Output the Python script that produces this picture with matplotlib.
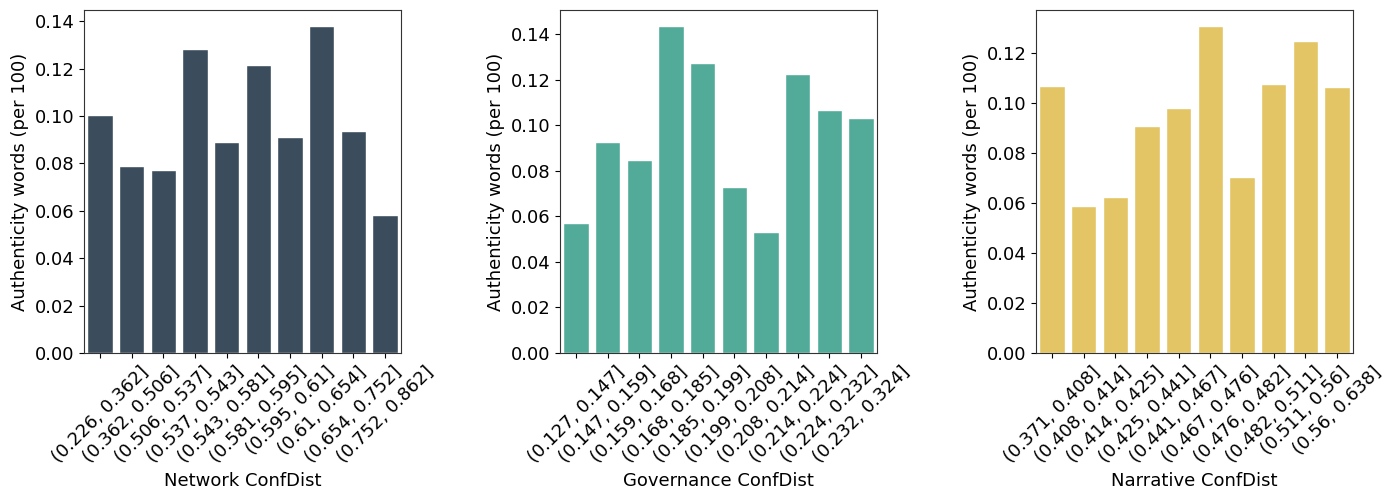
import matplotlib
matplotlib.use("Agg")
import matplotlib.pyplot as plt
import numpy as np

network_labels = ["(0.226, 0.362]", "(0.362, 0.506]", "(0.506, 0.537]", "(0.537, 0.543]",
                  "(0.543, 0.581]", "(0.581, 0.595]", "(0.595, 0.61]", "(0.61, 0.654]",
                  "(0.654, 0.752]", "(0.752, 0.862]"]
network_values = [0.1002, 0.0790, 0.0770, 0.1282, 0.0890, 0.1216, 0.0911, 0.1378, 0.0937, 0.0581]

governance_labels = ["(0.127, 0.147]", "(0.147, 0.159]", "(0.159, 0.168]", "(0.168, 0.185]",
                     "(0.185, 0.199]", "(0.199, 0.208]", "(0.208, 0.214]", "(0.214, 0.224]",
                     "(0.224, 0.232]", "(0.232, 0.324]"]
governance_values = [0.0570, 0.0928, 0.0849, 0.1435, 0.1275, 0.0731, 0.0530, 0.1227, 0.1067, 0.1032]

narrative_labels = ["(0.371, 0.408]", "(0.408, 0.414]", "(0.414, 0.425]", "(0.425, 0.441]",
                    "(0.441, 0.467]", "(0.467, 0.476]", "(0.476, 0.482]", "(0.482, 0.511]",
                    "(0.511, 0.56]", "(0.56, 0.638]"]
narrative_values = [0.1066, 0.0586, 0.0625, 0.0906, 0.0980, 0.1306, 0.0703, 0.1074, 0.1246, 0.1064]

panels = [
    ("Network ConfDist", network_labels, network_values, "#3b4d5c"),
    ("Governance ConfDist", governance_labels, governance_values, "#52ab98"),
    ("Narrative ConfDist", narrative_labels, narrative_values, "#e3c565"),
]

fig = plt.figure(figsize=(13.96, 4.96), dpi=100)
W, H = 1396, 496
lefts = [84, 560, 1036]
width = 317
top, bottom = 10, 353

for (xlabel, labels, values, color), left in zip(panels, lefts):
    ax = fig.add_axes([left / W, 1 - bottom / H, width / W, (bottom - top) / H])
    x = np.arange(len(values))
    ax.bar(x, values, width=0.8, color=color, edgecolor="white", linewidth=1)
    ax.set_xlim(-0.5, len(values) - 0.5)
    ax.set_ylim(0, max(values) * 1.05)
    ax.set_xticks(x)
    ax.set_xticklabels(labels, rotation=45, ha="center", fontsize=13)
    ax.tick_params(axis="y", labelsize=13)
    ax.set_xlabel(xlabel, fontsize=13)
    ax.set_ylabel("Authenticity words (per 100)", fontsize=13)
    for s in ax.spines.values():
        s.set_color("#333333")

fig.savefig("out.png", dpi=100)
